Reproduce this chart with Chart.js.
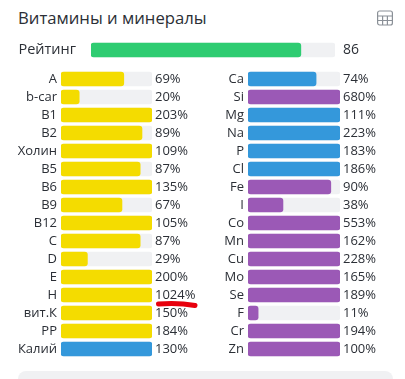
<!DOCTYPE html>
<html><head><meta charset="utf-8">
<script src="https://cdn.jsdelivr.net/npm/chart.js@4"></script>
<style>
html,body{margin:0;padding:0;background:#fff;width:405px;height:379px;overflow:hidden;font-family:"Open Sans",sans-serif;color:#2b2f36}
.abs{position:absolute}
#title{left:18px;top:6px;font-size:16.7px;line-height:24px;white-space:nowrap}
#panel{left:18px;top:371px;width:375px;height:20px;background:#f0f1f3;border-radius:8px}
canvas{position:absolute}
</style></head><body>
<div id="title" class="abs">Витамины и минералы</div>
<svg class="abs" style="left:376px;top:9px" width="18" height="18" viewBox="0 0 18 18" fill="none" stroke="#8a9097" stroke-width="1.2">
<rect x="1.6" y="2" width="14.8" height="14" rx="2"/><path d="M1.6 7H16.4M1.6 11.5H16.4M6.6 7V16M11.4 7V16"/></svg>
<canvas id="c0" width="405" height="30" style="left:0;top:35px"></canvas>
<canvas id="c1" width="205" height="288" style="left:0;top:70px"></canvas>
<canvas id="c2" width="200" height="288" style="left:205px;top:70px"></canvas>
<div id="panel" class="abs"></div>
<svg class="abs" style="left:0;top:0;pointer-events:none" width="405" height="379">
<path d="M158.500 304C170 303 184 303.500 195 305.500" fill="none" stroke="#e8000d" stroke-width="5" stroke-linecap="round"/></svg>
<script>
const ratingLabels=["Рейтинг"];
const ratingValues=[86];
const leftLabels=["A","b-car","B1","B2","Холин","B5","B6","B9","B12","C","D","E","H","вит.К","PP","Калий"];
const leftValues=[69,20,203,89,109,87,135,67,105,87,29,200,1024,150,184,130];
const leftKinds=["v","v","v","v","v","v","v","v","v","v","v","v","v","v","v","m"];
const rightLabels=["Ca","Si","Mg","Na","P","Cl","Fe","I","Co","Mn","Cu","Mo","Se","F","Cr","Zn"];
const rightValues=[74,680,111,223,183,186,90,38,553,162,228,165,189,11,194,100];
const rightKinds=["m","t","m","m","m","m","t","t","t","t","t","t","t","t","t","t"];
const COLORS={v:"#f4dc00",m:"#3498db",t:"#9b59b6",r:"#2ecc71"};
const TRACK="#f0f1f3",TEXT="#2b2f36",FONT='"Open Sans", sans-serif';

const valueText={id:"valueText",afterDatasetsDraw(chart,args,o){
  const {ctx,chartArea:a,scales:{y}}=chart;
  ctx.save();ctx.fillStyle=TEXT;ctx.font=o.size+"px "+FONT;ctx.textBaseline="middle";ctx.textAlign="left";
  o.values.forEach((v,i)=>ctx.fillText(v+o.suffix,a.right+o.gap,y.getPixelForValue(i)+.5));
  ctx.restore();
}};
function make(id,labels,values,kinds,axisW,rightPad,thick,suffix,gap,size,labelSize,labelPad){
  new Chart(document.getElementById(id),{
    type:"bar",
    data:{labels,datasets:[
      {data:values.map(v=>Math.min(v,100)),backgroundColor:kinds.map(k=>COLORS[k]),order:1},
      {data:labels.map(()=>100),backgroundColor:TRACK,order:2}
    ]},
    options:{indexAxis:"y",responsive:false,animation:false,
      layout:{autoPadding:false,padding:{left:0,right:rightPad,top:0,bottom:0}},
      datasets:{bar:{grouped:false,barThickness:thick,borderRadius:3,borderSkipped:false}},
      scales:{
        x:{display:false,min:0,max:100},
        y:{afterFit(s){s.width=axisW;s.paddingTop=0;s.paddingBottom=0},grid:{display:false,drawTicks:false},border:{display:false},
           ticks:{color:TEXT,padding:labelPad,font:{family:FONT,size:labelSize},autoSkip:false}}
      },
      plugins:{legend:{display:false},tooltip:{enabled:false},
        valueText:{values,suffix,gap,size}}
    },
    plugins:[valueText]
  });
}
make("c0",ratingLabels,ratingValues,["r"],91,70,14,"",8,14,14.5,15);
make("c1",leftLabels,leftValues,leftKinds,61,53,14,"%",3,13,13,4);
make("c2",rightLabels,rightValues,rightKinds,43,65,14,"%",3,13,13,4);
</script>
</body></html>
